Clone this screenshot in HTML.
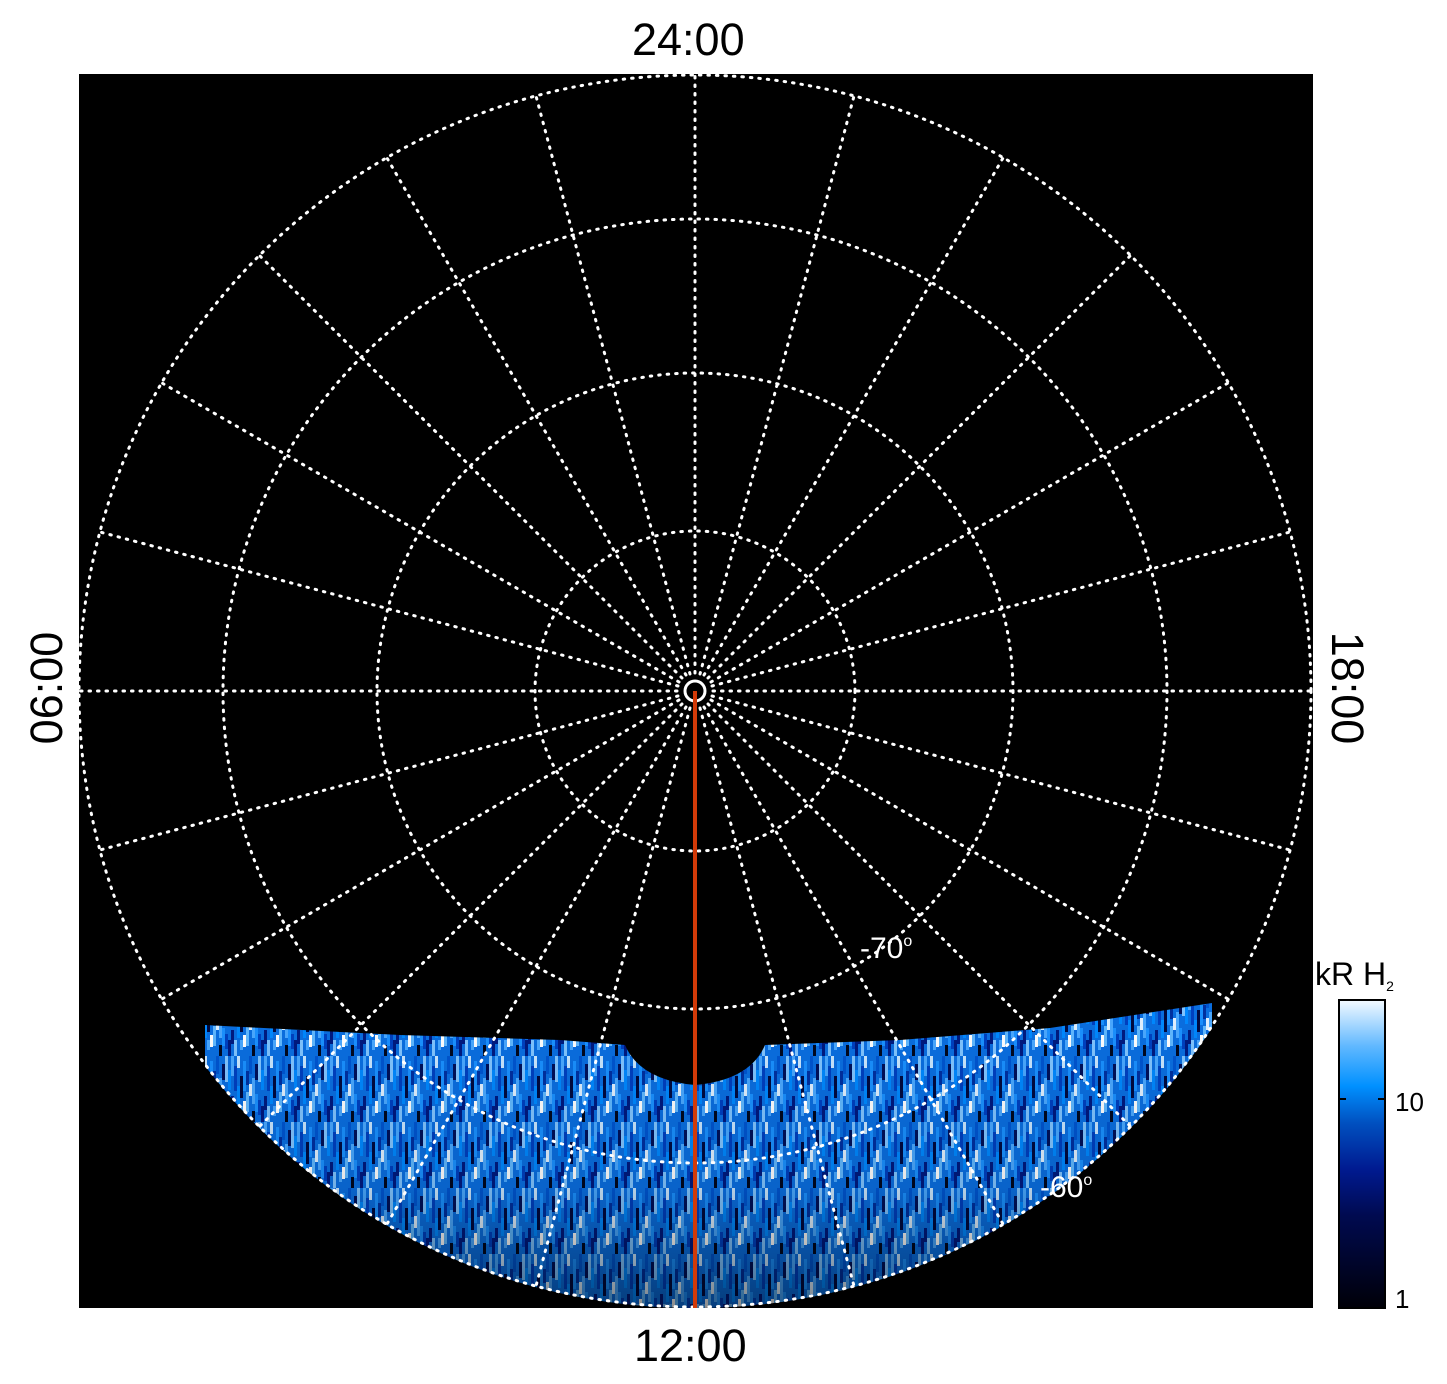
<!DOCTYPE html>
<html><head><style>
html,body{margin:0;padding:0;background:#fff;}
body{width:1447px;height:1384px;position:relative;overflow:hidden;font-family:"Liberation Sans",sans-serif;}
.t{position:absolute;color:#000;font-size:45px;}
</style></head><body>
<svg width="1447" height="1384" style="position:absolute;left:0;top:0">
<defs>
<clipPath id="cp"><circle cx="695" cy="691" r="617"/></clipPath>
<pattern id="pt" x="0" y="0" width="33" height="66" patternUnits="userSpaceOnUse">
<rect width="33" height="66" fill="#0a6ee0"/>
<rect x="0" y="0" width="3" height="20" fill="#4aa8ff"/><rect x="0" y="40" width="3" height="14" fill="#001a80"/>
<rect x="3" y="10" width="3" height="25" fill="#0040c0"/><rect x="3" y="50" width="3" height="16" fill="#80c4ff"/>
<rect x="6" y="0" width="3" height="12" fill="#c8e6ff"/><rect x="6" y="30" width="3" height="18" fill="#0088ff"/>
<rect x="9" y="20" width="3" height="22" fill="#000a40"/><rect x="9" y="50" width="3" height="10" fill="#4aa8ff"/>
<rect x="12" y="5" width="3" height="30" fill="#1a90ff"/><rect x="12" y="45" width="3" height="12" fill="#ffffff"/>
<rect x="15" y="15" width="3" height="14" fill="#0030a0"/><rect x="15" y="36" width="3" height="20" fill="#60b8ff"/>
<rect x="18" y="0" width="3" height="18" fill="#0055d0"/><rect x="18" y="28" width="3" height="12" fill="#e0f0ff"/>
<rect x="21" y="22" width="3" height="26" fill="#4aa8ff"/><rect x="21" y="55" width="3" height="11" fill="#000820"/>
<rect x="24" y="8" width="3" height="16" fill="#00115a"/><rect x="24" y="38" width="3" height="18" fill="#1a90ff"/>
<rect x="27" y="0" width="3" height="26" fill="#80c4ff"/><rect x="27" y="44" width="3" height="15" fill="#0040c0"/>
<rect x="30" y="14" width="3" height="20" fill="#0088ff"/><rect x="30" y="50" width="3" height="16" fill="#001a80"/>
</pattern>
<linearGradient id="dk" x1="0" y1="0" x2="0" y2="1">
<stop offset="0" stop-color="#000" stop-opacity="0"/><stop offset="0.6" stop-color="#000" stop-opacity="0.1"/><stop offset="1" stop-color="#000" stop-opacity="0.45"/></linearGradient>
<linearGradient id="cb" x1="0" y1="1" x2="0" y2="0">
<stop offset="0" stop-color="#000008"/><stop offset="0.3" stop-color="#000a50"/><stop offset="0.45" stop-color="#001a90"/><stop offset="0.6" stop-color="#0050c0"/><stop offset="0.72" stop-color="#0090ff"/><stop offset="0.85" stop-color="#60b8ff"/><stop offset="1" stop-color="#f4faff"/></linearGradient></defs>
<rect x="79" y="74" width="1234" height="1234" fill="#000"/>
<g clip-path="url(#cp)">
<path d="M205,1025 L400,1035 L560,1040 L625,1045 Q640,1080 695,1085 Q750,1080 765,1045 L900,1040 L1050,1028 L1212,1003 L1212,1310 L205,1310 Z" fill="url(#pt)"/>
<path d="M205,1025 L400,1035 L560,1040 L625,1045 Q640,1080 695,1085 Q750,1080 765,1045 L900,1040 L1050,1028 L1212,1003 L1212,1310 L205,1310 Z" fill="url(#dk)"/>
</g>
<g fill="none" stroke="#fff" stroke-width="3" stroke-dasharray="1.5 7" stroke-linecap="round">
<circle cx="695" cy="691" r="160"/><circle cx="695" cy="691" r="318"/><circle cx="695" cy="691" r="472"/><circle cx="695" cy="691" r="616"/>
<line x1="695" y1="673" x2="695" y2="75"/>
<line x1="700" y1="674" x2="854" y2="96"/>
<line x1="704" y1="675" x2="1003" y2="158"/>
<line x1="708" y1="678" x2="1131" y2="255"/>
<line x1="711" y1="682" x2="1228" y2="383"/>
<line x1="712" y1="686" x2="1290" y2="532"/>
<line x1="713" y1="691" x2="1311" y2="691"/>
<line x1="712" y1="696" x2="1290" y2="850"/>
<line x1="711" y1="700" x2="1228" y2="999"/>
<line x1="708" y1="704" x2="1131" y2="1127"/>
<line x1="704" y1="707" x2="1003" y2="1224"/>
<line x1="700" y1="708" x2="854" y2="1286"/>
<line x1="690" y1="708" x2="536" y2="1286"/>
<line x1="686" y1="707" x2="387" y2="1224"/>
<line x1="682" y1="704" x2="259" y2="1127"/>
<line x1="679" y1="700" x2="162" y2="999"/>
<line x1="678" y1="696" x2="100" y2="850"/>
<line x1="677" y1="691" x2="79" y2="691"/>
<line x1="678" y1="686" x2="100" y2="532"/>
<line x1="679" y1="682" x2="162" y2="383"/>
<line x1="682" y1="678" x2="259" y2="255"/>
<line x1="686" y1="675" x2="387" y2="158"/>
<line x1="690" y1="674" x2="536" y2="96"/>
</g>
<circle cx="695" cy="691" r="10" fill="none" stroke="#fff" stroke-width="3"/>
<line x1="695" y1="691" x2="695" y2="1308" stroke="#d23a08" stroke-width="4"/>
<text x="860" y="958" fill="#fff" font-size="30" font-family="Liberation Sans">-70<tspan font-size="16" dy="-12">o</tspan></text>
<text x="1040" y="1197" fill="#fff" font-size="30" font-family="Liberation Sans">-60<tspan font-size="16" dy="-12">o</tspan></text>
<rect x="1339" y="1000" width="46" height="308" fill="url(#cb)" stroke="#000" stroke-width="2"/>
<line x1="1339" y1="1099" x2="1346" y2="1099" stroke="#000" stroke-width="2"/>
<line x1="1378" y1="1099" x2="1385" y2="1099" stroke="#000" stroke-width="2"/>
<text x="1395" y="1111" font-size="26" font-family="Liberation Sans">10</text>
<text x="1395" y="1308" font-size="26" font-family="Liberation Sans">1</text>
<text x="1315" y="985" font-size="32" font-family="Liberation Sans">kR H<tspan font-size="14" dy="6">2</tspan></text>
</svg>
<div class="t" style="left:632px;top:14px">24:00</div>
<div class="t" style="left:634px;top:1320px">12:00</div>
<div class="t" style="left:-18px;top:662px;transform:rotate(-90deg);width:130px;text-align:center">06:00</div>
<div class="t" style="left:1282px;top:662px;transform:rotate(90deg);width:130px;text-align:center">18:00</div>
</body></html>
